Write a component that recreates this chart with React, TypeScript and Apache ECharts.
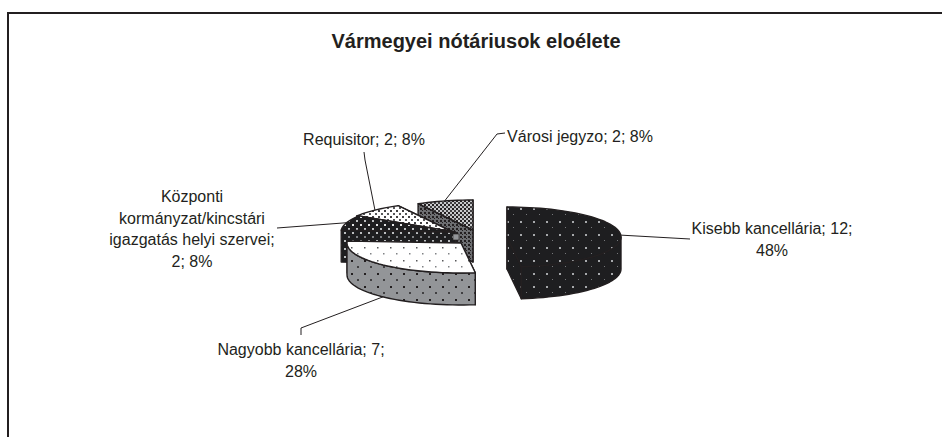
import React, { useEffect, useRef } from "react";
import * as echarts from "echarts";

const chartTitle = "Vármegyei nótáriusok eloélete";
const names = [
  "Kisebb kancellária",
  "Nagyobb kancellária",
  "Központi\nkormányzat/kincstári\nigazgatás helyi szervei",
  "Requisitor",
  "Városi jegyzo",
];
const values = [12, 7, 2, 2, 2];
const labelBreaks = [
  ["; ", ";\n"],
  ["; ", ";\n"],
  [";\n", "; "],
  ["; ", "; "],
  ["; ", "; "],
];

// Styling and layout of the drawing (not data)
const RX = 114;
const RY = 30;
const DEPTH = 32;
const FONT = "'Liberation Sans', Arial, sans-serif";
const INK = "#231f20";
const sliceCentres = [
  [507, 237],
  [461, 243],
  [455, 232],
  [453, 232],
  [473, 230],
];
const drawOrder = [3, 4, 2, 1, 0]; // layer of each slice, back to front
const labelAnchors = [
  [772, 218],
  [301, 339],
  [192, 186],
  [364, 129],
  [580, 126],
];
const leaderWaypoints = [
  [[690, 239]],
  [[301, 328], [301, 335]],
  [[277, 228]],
  [[365, 160], [364, 152]],
  [[497, 134], [505, 133]],
];

type Dot = [number, number, number, string];
function pattern(size: number, bg: string, dots: Dot[]) {
  const c = document.createElement("canvas");
  c.width = size;
  c.height = size;
  const g = c.getContext("2d")!;
  g.fillStyle = bg;
  g.fillRect(0, 0, size, size);
  dots.forEach(([x, y, s, col]) => {
    g.fillStyle = col;
    g.fillRect(x, y, s, s);
  });
  return { image: c, repeat: "repeat" };
}

function App() {
  const ref = useRef<HTMLDivElement>(null);
  useEffect(() => {
    const chart = echarts.init(ref.current!, null, { renderer: "svg" });

    const total = values.reduce((a, b) => a + b, 0);
    const startAngles: number[] = [];
    values.reduce((acc, v, i) => {
      startAngles[i] = (acc / total) * Math.PI * 2;
      return acc + v;
    }, 0);

    const fills = [
      {
        top: pattern(13, "#1e1e20", [[0, 0, 2, "#a7a9ac"], [6, 6, 1, "#77787b"]]),
        wall: pattern(13, "#1e1e20", [[0, 0, 2, "#a7a9ac"], [6, 6, 1, "#77787b"]]),
      },
      {
        top: pattern(13, "#ffffff", [[0, 0, 1.5, "#58595b"], [6, 6, 1.5, "#808285"]]),
        wall: pattern(13, "#939598", [[0, 0, 2, "#231f20"], [6, 6, 2, "#414042"]]),
      },
      {
        top: pattern(8, "#1e1e20", [[0, 0, 2, "#e6e7e8"], [4, 4, 2, "#bcbec0"]]),
        wall: pattern(8, "#1e1e20", [[0, 0, 2, "#bcbec0"], [4, 4, 2, "#808285"]]),
      },
      {
        top: pattern(6, "#ffffff", [[0, 0, 2, "#414042"], [3, 3, 2, "#58595b"]]),
        wall: pattern(6, "#ffffff", [[0, 0, 2, "#414042"], [3, 3, 2, "#58595b"]]),
      },
      {
        top: pattern(4, "#c7c8ca", [[0, 0, 2, "#231f20"], [2, 2, 2, "#414042"]]),
        wall: pattern(4, "#6d6e71", [[0, 0, 2, "#231f20"], [2, 2, 1, "#231f20"]]),
      },
    ];

    const rim = (c: number[], a: number, dy = 0) => [
      c[0] + RX * Math.sin(a),
      c[1] - RY * Math.cos(a) + dy,
    ];
    const arc = (c: number[], a0: number, a1: number, dy = 0) => {
      const steps = Math.max(2, Math.ceil((a1 - a0) / 0.05));
      const pts: number[][] = [];
      for (let k = 0; k <= steps; k++) pts.push(rim(c, a0 + ((a1 - a0) * k) / steps, dy));
      return pts;
    };

    const renderItem = (params: any, api: any) => {
      const i = params.dataIndex;
      const v = api.value(0);
      const a0 = startAngles[i];
      const a1 = a0 + (v / total) * Math.PI * 2;
      const c = sliceCentres[i];
      const base = drawOrder[i] * 10;
      const stroke = { stroke: INK, lineWidth: 1.4, lineJoin: "round" };
      const children: any[] = [];
      const face = (pts: number[][], fill: any, z: number) =>
        children.push({
          type: "polygon",
          shape: { points: pts },
          style: { fill, ...stroke },
          z2: base + z,
        });
      const radial = (a: number, z: number) => {
        const p = rim(c, a);
        face([c, p, [p[0], p[1] + DEPTH], [c[0], c[1] + DEPTH]], fills[i].wall, z);
      };
      radial(a1, 0);
      radial(a0, 1);
      const f0 = Math.max(a0, Math.PI / 2);
      const f1 = Math.min(a1, (Math.PI * 3) / 2);
      if (f1 > f0) {
        const upper = arc(c, f0, f1);
        const lower = arc(c, f0, f1, DEPTH).reverse();
        face([...upper, ...lower], fills[i].wall, 2);
      }
      face([c, ...arc(c, a0, a1)], fills[i].top, 3);
      return { type: "group", children };
    };

    const pct = (v: number) => Math.round((v / total) * 100);
    const labelText = (i: number) =>
      `${names[i]}${labelBreaks[i][0]}${values[i]}${labelBreaks[i][1]}${pct(values[i])}%`;

    const leaderFor = (i: number) => {
      const mid = startAngles[i] + (values[i] / total) * Math.PI;
      const front = Math.cos(mid) < 0;
      const start = rim(sliceCentres[i], mid, front ? DEPTH : 0);
      return {
        type: "polyline",
        z: 5,
        silent: true,
        shape: { points: [start, ...leaderWaypoints[i]] },
        style: { stroke: INK, lineWidth: 1, fill: "none" },
      };
    };

    const labelFor = (i: number) => ({
      type: "text",
      z: 6,
      silent: true,
      x: labelAnchors[i][0],
      y: labelAnchors[i][1],
      style: {
        text: labelText(i),
        fill: INK,
        font: `16px ${FONT}`,
        lineHeight: 21.5,
        align: "center",
        verticalAlign: "top",
      },
    });

    chart.setOption({
      animation: false,
      backgroundColor: "#ffffff",
      title: {
        text: chartTitle,
        left: 471,
        top: 26,
        textAlign: "center",
        textStyle: { fontFamily: FONT, fontWeight: "bold", fontSize: 20, color: INK },
      },
      graphic: {
        elements: [
          {
            type: "polyline",
            silent: true,
            shape: { points: [[8, 437], [8, 13], [942, 13]] },
            style: { stroke: INK, lineWidth: 2, fill: "none" },
          },
          {
            type: "rect",
            z: 5,
            silent: true,
            shape: { x: 453, y: 234, width: 6, height: 6 },
            style: { fill: "#939598", stroke: INK, lineWidth: 0.6 },
          },
          ...values.map((_, i) => leaderFor(i)),
          ...values.map((_, i) => labelFor(i)),
        ],
      },
      series: [
        {
          type: "custom",
          coordinateSystem: "none",
          silent: true,
          z: 3,
          data: values.map((v, i) => ({ name: names[i], value: [v] })),
          renderItem,
        },
      ],
    });
    return () => chart.dispose();
  }, []);
  return (
    <div
      ref={ref}
      style={{ position: "fixed", left: 0, top: 0, width: 942, height: 437 }}
    />
  );
}

export default App;
